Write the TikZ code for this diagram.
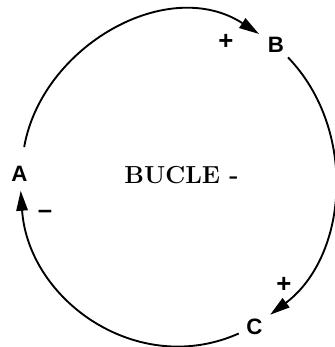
\documentclass[tikz,border=0pt]{standalone}
\usepackage{fontspec}
\usepackage{tikz}
\usetikzlibrary{arrows.meta}
\newfontfamily\labelfont{Liberation Sans}

\begin{document}
\begin{tikzpicture}[x=0.03cm, y=0.03cm,
  var/.style={circle, inner sep=0pt, minimum size=1.02cm, font=\labelfont\bfseries\fontsize{19}{21}\selectfont},
  sign/.style={inner sep=0pt, font=\labelfont\bfseries\fontsize{22}{24}\selectfont},
  link/.style={line width=1.6pt, -{Triangle[length=6mm,width=3.4mm]}}]
  \useasboundingbox (0,0) rectangle (334,347);
  \node[var] (A) at (19.5,173.5) {A};
  \node[var] (B) at (276,302) {B};
  \node[var] (C) at (254.5,20.5) {C};
  \node[sign] (sB) at (226,305) {+};
  \node[sign] (sC) at (284,62.5) {+};
  \node[sign] (sA) at (45,133) {–};
  \node[font=\bfseries\fontsize{21}{24}\selectfont] (loop) at (181.5,171.5) {BUCLE -};
  \draw[link, shorten <=0.29cm, shorten >=0.09cm] (A) to[out=80, in=147, looseness=1.07] (B);
  \draw[link, shorten >=0.07cm] (B) to[out=-46, in=37, looseness=0.99] (C);
  \draw[link] (C) to[out=204, in=274, looseness=1.08] (A);
\end{tikzpicture}
\end{document}
